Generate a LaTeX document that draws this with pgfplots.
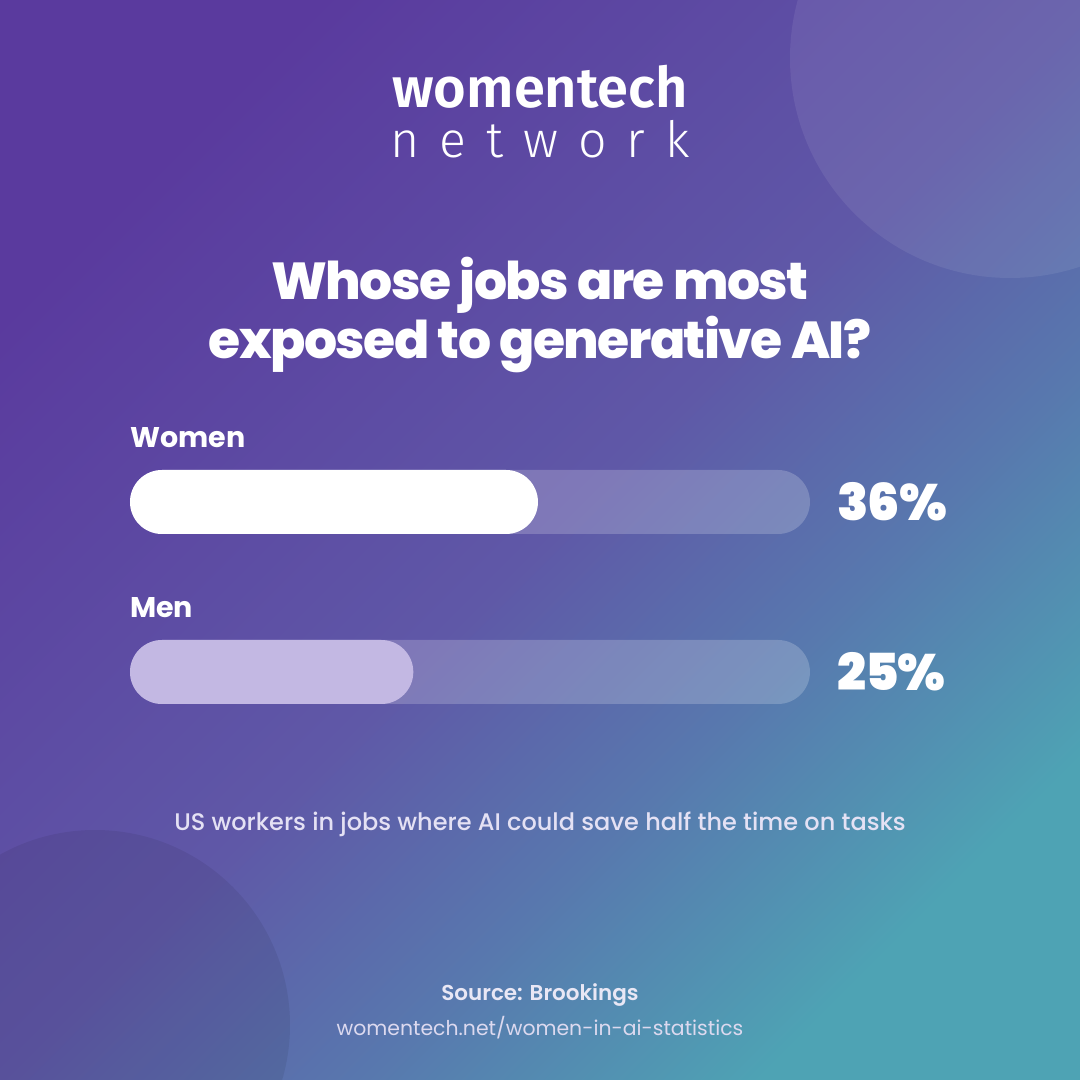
\documentclass[border=0pt]{standalone}
\usepackage{pgfplots}
\pgfplotsset{compat=1.18}
\usepackage{fontspec}
\setmainfont{Poppins}
\IfFontExistsTF{Poppins SemiBold}{\newfontfamily\popsb{Poppins SemiBold}}{\newfontfamily\popsb{Poppins}[FakeBold=1.5]}
\IfFontExistsTF{Poppins ExtraBold}{\newfontfamily\popxb{Poppins ExtraBold}[LetterSpace=-3]}{\newfontfamily\popxb{Poppins}[FakeBold=2,LetterSpace=-3]}
\IfFontExistsTF{Poppins Black}{\newfontfamily\popbl{Poppins Black}[LetterSpace=-2]}{\newfontfamily\popbl{Poppins ExtraBold}[LetterSpace=-2]}
\IfFontExistsTF{Poppins Medium}{\newfontfamily\popmd{Poppins Medium}}{\newfontfamily\popmd{Poppins}}
\newfontfamily\popb{Poppins}
\IfFontExistsTF{Fira Sans SemiBold}{\newfontfamily\logob{Fira Sans SemiBold}}{\newfontfamily\logob{Fira Sans}[FakeBold=1]}
\IfFontExistsTF{Fira Sans Light}{\newfontfamily\logol{Fira Sans Light}[LetterSpace=40]}{\newfontfamily\logol{Fira Sans}[LetterSpace=40]}
\definecolor{bgA}{HTML}{5A3A9E}
\definecolor{bgB}{HTML}{5F58A7}
\definecolor{bgC}{HTML}{5878AE}
\definecolor{bgD}{HTML}{4EA3B4}
\definecolor{menbar}{HTML}{C3B8E3}
\definecolor{subtxt}{HTML}{E4E1F4}
\definecolor{foottxt}{HTML}{E9E7F5}
\definecolor{urltxt}{HTML}{DCD9EF}
\pgfdeclarehorizontalshading{bgshade}{100bp}{color(0bp)=(bgA); color(25bp)=(bgA); color(50bp)=(bgB); color(62bp)=(bgC); color(75bp)=(bgD); color(100bp)=(bgD)}
\begin{document}
\begin{tikzpicture}[x=1pt,y=1pt]
\useasboundingbox (0,0) rectangle (1080,1080);
\begin{scope}
\clip (0,0) rectangle (1080,1080);
\shade[shading=bgshade, shading angle=-45] (0,0) rectangle (1080,1080);
\fill[white, fill opacity=0.08] (1010,1022) circle (220);
\fill[black, fill opacity=0.07] (95,55) circle (195);
\end{scope}
% logo
\node[anchor=base, text=white, inner sep=0pt] at (540,972) {\logob\fontsize{56}{56}\selectfont womentech};
\node[anchor=base, text=white, inner sep=0pt] at (540,922) {\logol\fontsize{50}{50}\selectfont network};
% title
\node[anchor=base, text=white, inner sep=0pt] at (540,780) {\popxb\fontsize{52}{52}\selectfont Whose jobs are most};
\node[anchor=base, text=white, inner sep=0pt] at (540,721) {\popxb\fontsize{52}{52}\selectfont exposed to generative AI?};
% category labels
\node[anchor=base west, text=white, inner sep=0pt] at (130,632) {\popb\bfseries\fontsize{28.5}{28.5}\selectfont Women};
\node[anchor=base west, text=white, inner sep=0pt] at (130,462) {\popb\bfseries\fontsize{28.5}{28.5}\selectfont Men};
% subtitle and footer
\node[anchor=base, text=subtxt, inner sep=0pt] at (540,249) {\popmd\fontsize{24}{24}\selectfont US workers in jobs where AI could save half the time on tasks};
\node[anchor=base, text=foottxt, inner sep=0pt] at (540,79) {\popsb\fontsize{21.5}{21.5}\selectfont Source: Brookings};
\node[anchor=base, text=urltxt, inner sep=0pt] at (540,44) {\popb\fontsize{20.4}{20.4}\selectfont womentech.net/women-in-ai-statistics};
\begin{axis}[
  at={(0,0)}, anchor=south west,
  width=1080pt, height=1080pt, scale only axis,
  xmin=-11.470588, xmax=83.823529, ymin=0, ymax=1080,
  hide axis, clip=false,
  xbar, bar width=64pt, bar shift=0pt,
]
\addplot[draw=none, fill=white, fill opacity=0.2, rounded corners=32pt,
  nodes near coords, point meta=explicit symbolic,
  every node near coord/.style={anchor=west, xshift=24pt, text=white, text opacity=1, fill opacity=1, font=\popbl\fontsize{51}{51}\selectfont}]
  coordinates {(60,578) [36\%] (60,408) [25\%]};
\addplot[draw=none, fill=white, rounded corners=32pt] coordinates {(36,578)};
\addplot[draw=none, fill=menbar, rounded corners=32pt] coordinates {(25,408)};
\end{axis}
\end{tikzpicture}
\end{document}
